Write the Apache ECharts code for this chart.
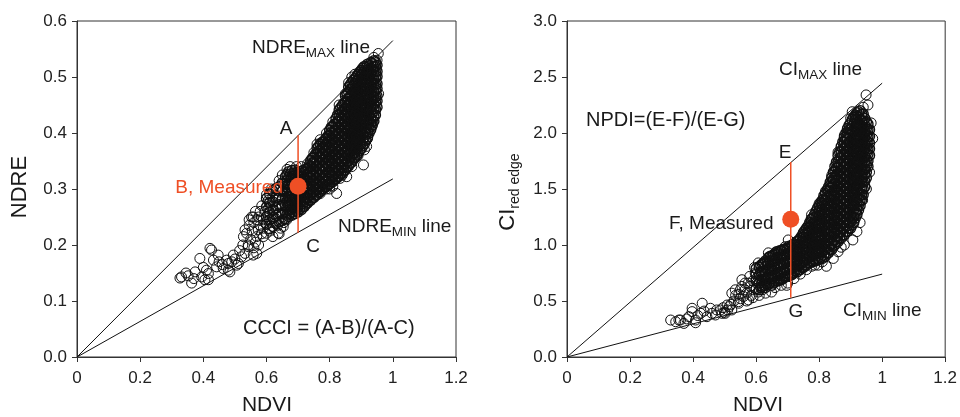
<!DOCTYPE html>
<html>
<head>
<meta charset="utf-8">
<script src="https://cdn.jsdelivr.net/npm/echarts@6/dist/echarts.min.js"></script>
<style>
  html, body { margin: 0; padding: 0; background: #fff; }
  #chart { width: 960px; height: 417px; }
</style>
</head>
<body>
<div id="chart"></div>
<script>
// ---------- Left panel: NDVI vs NDRE ----------
// scattered observations (NDVI, NDRE)
const ndreScatter = [
  [0.326,0.141],[0.352,0.145],[0.363,0.132],[0.374,0.152],[0.389,0.176],[0.395,0.143],[0.41,0.155],
  [0.426,0.191],[0.432,0.173],[0.416,0.138],[0.442,0.161],[0.463,0.158],[0.474,0.173],[0.479,0.155],
  [0.495,0.182],[0.506,0.164],[0.521,0.179],[0.527,0.215],[0.532,0.227],[0.542,0.197],[0.553,0.25],
  [0.558,0.182],[0.569,0.215],[0.331,0.143],[0.405,0.138],[0.421,0.194],[0.447,0.182],[0.416,0.149],
  [0.479,0.167],[0.484,0.152],[0.511,0.167],[0.532,0.185],[0.537,0.221],[0.542,0.2],[0.558,0.25],
  [0.574,0.227],[0.569,0.185],[0.59,0.245],[0.606,0.28],[0.6,0.221],[0.622,0.262],[0.637,0.221],
  [0.632,0.298],[0.653,0.233],[0.664,0.245],[0.685,0.322],[0.77,0.388],[0.80,0.405],[0.822,0.292],
  [0.833,0.319],[0.854,0.322],[0.907,0.343],[0.77,0.292],[0.886,0.358],[0.917,0.376],[0.933,0.411],
  [0.954,0.542],[0.345,0.15],[0.37,0.14],[0.4,0.16],[0.45,0.17],[0.46,0.165],[0.49,0.17],[0.5,0.175],
  [0.515,0.19],[0.525,0.2],[0.545,0.235],[0.55,0.21],[0.56,0.24],[0.565,0.26],[0.575,0.25],[0.58,0.235],
  [0.585,0.27],[0.595,0.26],[0.59,0.23],[0.61,0.27],[0.62,0.285],[0.63,0.28],[0.64,0.22],[0.655,0.31],
  [0.66,0.3],[0.675,0.34],[0.695,0.34],[0.71,0.34],[0.73,0.345],[0.75,0.365],[0.76,0.38],[0.79,0.3],
  [0.80,0.3],[0.81,0.305],[0.84,0.325],[0.87,0.34],[0.89,0.36],[0.91,0.37],[0.92,0.39],[0.935,0.42],
  [0.945,0.44],[0.955,0.47],[0.95,0.53],[0.94,0.535],[0.86,0.49],[0.87,0.5],[0.88,0.505],[0.83,0.45],
  [0.85,0.47],[0.81,0.42],[0.79,0.4],
  [0.545,0.245],[0.555,0.225],[0.565,0.205],[0.57,0.245],[0.58,0.26],[0.585,0.22],[0.595,0.24],
  [0.6,0.25],[0.605,0.265],[0.615,0.24],[0.625,0.25],[0.56,0.195],[0.575,0.2],[0.59,0.215],
  [0.61,0.225],[0.62,0.215],[0.635,0.235],[0.645,0.23],[0.655,0.24],[0.6,0.29],[0.615,0.3],
  [0.64,0.315],[0.65,0.325],[0.665,0.335]
];
// densely packed observations, grouped by NDVI: [ndvi, [ndre...]]
const ndreDense = [
  [0.60,[0.237,0.251,0.268,0.283]],
  [0.61,[0.229,0.245,0.258,0.276,0.291]],
  [0.62,[0.233,0.248,0.263,0.277,0.297]],
  [0.63,[0.239,0.253,0.266,0.285,0.301]],
  [0.64,[0.241,0.257,0.272,0.286,0.304]],
  [0.65,[0.244,0.256,0.27,0.282,0.296,0.311]],
  [0.66,[0.247,0.259,0.271,0.284,0.295,0.31,0.322]],
  [0.67,[0.251,0.262,0.272,0.286,0.298,0.308,0.321,0.331]],
  [0.68,[0.253,0.264,0.276,0.287,0.297,0.311,0.322,0.333]],
  [0.69,[0.256,0.267,0.278,0.288,0.301,0.313,0.324,0.334]],
  [0.70,[0.259,0.27,0.281,0.292,0.302,0.316,0.327]],
  [0.71,[0.263,0.273,0.284,0.293,0.306,0.317,0.328]],
  [0.72,[0.269,0.277,0.289,0.299,0.309,0.319,0.33]],
  [0.73,[0.275,0.285,0.293,0.305,0.315,0.324,0.337]],
  [0.74,[0.28,0.29,0.3,0.308,0.32,0.331,0.34,0.351]],
  [0.75,[0.285,0.295,0.303,0.315,0.326,0.335,0.348,0.357]],
  [0.76,[0.29,0.298,0.31,0.32,0.329,0.342,0.351,0.362,0.373]],
  [0.77,[0.295,0.305,0.313,0.326,0.335,0.348,0.357,0.368,0.38]],
  [0.78,[0.3,0.308,0.32,0.331,0.34,0.353,0.362,0.375,0.384]],
  [0.79,[0.304,0.314,0.323,0.336,0.345,0.358,0.367,0.38,0.391]],
  [0.80,[0.309,0.317,0.33,0.339,0.352,0.361,0.374,0.383,0.396,0.405]],
  [0.81,[0.313,0.324,0.333,0.346,0.355,0.368,0.377,0.39,0.399,0.412]],
  [0.82,[0.318,0.327,0.34,0.349,0.362,0.371,0.384,0.393,0.406,0.415,0.426]],
  [0.83,[0.323,0.334,0.343,0.356,0.365,0.378,0.387,0.4,0.409,0.422,0.431,0.441]],
  [0.84,[0.328,0.337,0.35,0.359,0.372,0.381,0.394,0.403,0.416,0.425,0.438,0.449]],
  [0.85,[0.334,0.345,0.354,0.367,0.376,0.389,0.398,0.411,0.42,0.433,0.442,0.455,0.466]],
  [0.86,[0.341,0.35,0.363,0.372,0.385,0.394,0.407,0.416,0.429,0.438,0.451,0.46,0.473,0.482]],
  [0.87,[0.348,0.359,0.368,0.381,0.39,0.403,0.412,0.425,0.434,0.447,0.456,0.469,0.478,0.49]],
  [0.88,[0.356,0.365,0.378,0.387,0.4,0.409,0.422,0.431,0.444,0.453,0.466,0.475,0.488,0.497]],
  [0.89,[0.364,0.375,0.384,0.397,0.406,0.419,0.428,0.441,0.45,0.463,0.472,0.485,0.494,0.505]],
  [0.90,[0.372,0.381,0.394,0.403,0.416,0.425,0.438,0.447,0.46,0.469,0.482,0.491,0.504,0.512]],
  [0.91,[0.381,0.392,0.401,0.414,0.423,0.436,0.445,0.458,0.467,0.48,0.489,0.502,0.511,0.519]],
  [0.92,[0.393,0.402,0.415,0.424,0.437,0.446,0.459,0.468,0.481,0.49,0.503,0.512,0.523]],
  [0.93,[0.406,0.417,0.426,0.439,0.448,0.461,0.47,0.483,0.492,0.505,0.514,0.526]],
  [0.94,[0.421,0.43,0.443,0.452,0.465,0.474,0.487,0.496,0.509,0.518,0.529]],
  [0.95,[0.446,0.457,0.466,0.479,0.488,0.501,0.51,0.521]],
  [0.665,[0.255,0.268,0.279,0.291,0.303,0.315,0.326]],
  [0.675,[0.257,0.269,0.281,0.292,0.304,0.316,0.327]],
  [0.685,[0.259,0.27,0.282,0.293,0.305,0.317,0.328]],
  [0.695,[0.262,0.273,0.284,0.296,0.307,0.319,0.33]],
  [0.705,[0.265,0.276,0.287,0.298,0.31,0.321,0.331]],
  [0.715,[0.268,0.279,0.29,0.301,0.312,0.323,0.333]],
  [0.725,[0.273,0.283,0.294,0.304,0.314,0.325,0.335]],
  [0.735,[0.28,0.289,0.299,0.311,0.321,0.33,0.343]],
  [0.745,[0.284,0.294,0.305,0.314,0.325,0.336,0.345,0.355]],
  [0.755,[0.289,0.3,0.308,0.319,0.331,0.34,0.352,0.362]],
  [0.765,[0.294,0.303,0.315,0.324,0.336,0.346,0.357,0.368,0.376]],
  [0.775,[0.3,0.31,0.319,0.331,0.341,0.352,0.363,0.373,0.383]],
  [0.785,[0.304,0.314,0.325,0.336,0.347,0.357,0.369,0.379,0.388]],
  [0.795,[0.308,0.319,0.329,0.341,0.351,0.363,0.373,0.386,0.395]],
  [0.805,[0.313,0.323,0.335,0.345,0.357,0.367,0.379,0.389,0.401,0.41]],
  [0.815,[0.317,0.329,0.338,0.351,0.36,0.373,0.382,0.395,0.404,0.416]],
  [0.825,[0.322,0.333,0.345,0.354,0.367,0.376,0.389,0.398,0.411,0.42,0.432]],
  [0.835,[0.327,0.339,0.348,0.361,0.37,0.383,0.392,0.405,0.414,0.427,0.436,0.445]],
  [0.845,[0.332,0.343,0.355,0.364,0.377,0.386,0.399,0.408,0.421,0.43,0.443,0.453]],
  [0.855,[0.339,0.35,0.36,0.371,0.382,0.394,0.404,0.416,0.426,0.438,0.448,0.46,0.47]],
  [0.865,[0.346,0.356,0.368,0.378,0.39,0.4,0.412,0.422,0.434,0.444,0.456,0.466,0.478,0.486]],
  [0.875,[0.353,0.364,0.374,0.386,0.396,0.408,0.418,0.43,0.44,0.452,0.462,0.474,0.484,0.494]],
  [0.885,[0.361,0.371,0.383,0.393,0.405,0.415,0.427,0.437,0.449,0.459,0.471,0.481,0.493,0.501]],
  [0.895,[0.369,0.38,0.39,0.402,0.412,0.424,0.434,0.446,0.456,0.468,0.478,0.49,0.5,0.509]],
  [0.905,[0.377,0.388,0.398,0.41,0.42,0.432,0.442,0.454,0.464,0.476,0.486,0.498,0.508,0.516]],
  [0.915,[0.387,0.398,0.408,0.42,0.43,0.442,0.452,0.464,0.474,0.486,0.496,0.508,0.517]],
  [0.925,[0.4,0.41,0.422,0.432,0.444,0.454,0.466,0.476,0.488,0.498,0.51,0.52]],
  [0.935,[0.414,0.424,0.436,0.446,0.458,0.468,0.48,0.49,0.502,0.512,0.524]],
  [0.945,[0.432,0.443,0.455,0.465,0.477,0.487,0.499,0.509,0.519,0.527]]
];
// boundary lines and the measured example
const ndreMaxLine = [[0, 0], [1, 0.565]];
const ndreMinLine = [[0, 0], [1, 0.318]];
const ndviExampleL = 0.70;
const ndreA = 0.396, ndreB = 0.305, ndreC = 0.222;

// ---------- Right panel: NDVI vs CI red edge ----------
const ciScatter = [
  [0.329,0.33],[0.345,0.315],[0.36,0.33],[0.371,0.30],[0.387,0.36],[0.397,0.405],[0.408,0.33],
  [0.429,0.48],[0.424,0.39],[0.444,0.36],[0.455,0.435],[0.471,0.375],[0.487,0.42],[0.502,0.39],
  [0.508,0.464],[0.523,0.42],[0.534,0.6],[0.544,0.494],[0.555,0.69],[0.56,0.54],[0.576,0.51],
  [0.581,0.63],[0.597,0.75],[0.607,0.58],[0.623,0.84],[0.634,0.66],[0.649,0.58],[0.66,0.93],
  [0.67,0.73],[0.692,0.985],[0.697,0.64],[0.786,0.82],[0.397,0.435],[0.355,0.33],[0.408,0.306],
  [0.492,0.39],[0.523,0.57],[0.555,0.63],[0.607,0.84],[0.639,0.93],[0.702,1.045],[0.728,1.03],
  [0.776,0.81],[0.797,0.82],[0.823,0.81],[0.828,0.925],[0.86,0.94],[0.907,1.045],[0.938,1.40],
  [0.80,1.37],[0.776,1.27],[0.949,2.34],[0.965,2.09],[0.38,0.34],[0.415,0.37],[0.435,0.41],
  [0.46,0.39],[0.475,0.42],[0.495,0.44],[0.515,0.45],[0.53,0.5],[0.545,0.56],[0.565,0.6],[0.575,0.66],
  [0.59,0.68],[0.55,0.52],[0.57,0.57],[0.585,0.55],[0.6,0.7],[0.615,0.72],[0.59,0.6],[0.62,0.6],
  [0.66,0.62],[0.68,0.64],[0.7,0.66],[0.72,0.7],[0.74,0.74],[0.76,0.78],[0.88,1.0],[0.92,1.12],
  [0.93,1.2],[0.95,1.5],[0.96,1.65],[0.97,1.95],[0.955,2.25],[0.94,2.23],[0.845,0.88],[0.87,0.98],
  [0.81,0.85],[0.84,1.62],[0.82,1.48],[0.86,1.83],[0.88,1.98],[0.9,2.13],[0.905,2.19],
  [0.535,0.55],[0.55,0.6],[0.565,0.66],[0.58,0.72],[0.595,0.8],[0.605,0.65],[0.57,0.5],[0.59,0.53],
  [0.61,0.55],[0.63,0.57],[0.545,0.48],[0.52,0.47],[0.51,0.42],[0.5,0.4]
];
const ciDense = [
  [0.60,[0.61,0.68,0.74,0.79]],
  [0.61,[0.6,0.66,0.73,0.8]],
  [0.62,[0.63,0.69,0.76,0.83]],
  [0.63,[0.62,0.68,0.74,0.81,0.86]],
  [0.64,[0.65,0.71,0.78,0.84,0.89]],
  [0.65,[0.64,0.7,0.77,0.83,0.9]],
  [0.66,[0.67,0.73,0.79,0.86,0.92]],
  [0.67,[0.68,0.74,0.8,0.87,0.93]],
  [0.68,[0.69,0.75,0.82,0.88,0.95]],
  [0.69,[0.71,0.77,0.83,0.9,0.96]],
  [0.70,[0.72,0.78,0.85,0.91,0.97]],
  [0.71,[0.73,0.79,0.86,0.92,0.98]],
  [0.72,[0.75,0.8,0.86,0.92,0.97,1.01]],
  [0.73,[0.76,0.82,0.87,0.93,0.98,1.03]],
  [0.74,[0.78,0.83,0.89,0.94,1.0,1.06]],
  [0.75,[0.8,0.85,0.9,0.96,1.01,1.07,1.11]],
  [0.76,[0.82,0.87,0.93,0.98,1.04,1.09,1.15]],
  [0.77,[0.84,0.89,0.95,1.0,1.06,1.11,1.16,1.2]],
  [0.78,[0.85,0.91,0.96,1.02,1.07,1.13,1.18,1.24]],
  [0.79,[0.86,0.92,0.97,1.03,1.08,1.14,1.19,1.25,1.3]],
  [0.80,[0.87,0.93,0.98,1.04,1.09,1.15,1.2,1.26,1.31,1.35]],
  [0.81,[0.88,0.94,0.99,1.05,1.1,1.16,1.21,1.27,1.32,1.37,1.4]],
  [0.82,[0.9,0.96,1.01,1.07,1.12,1.18,1.23,1.29,1.34,1.4,1.46]],
  [0.83,[0.93,0.98,1.04,1.09,1.15,1.2,1.26,1.31,1.37,1.42,1.48,1.52]],
  [0.84,[0.96,1.01,1.07,1.12,1.18,1.23,1.29,1.34,1.4,1.45,1.51,1.56,1.6]],
  [0.85,[1.0,1.05,1.11,1.16,1.22,1.27,1.33,1.38,1.44,1.49,1.55,1.6,1.66,1.7]],
  [0.86,[1.03,1.08,1.14,1.19,1.25,1.3,1.36,1.41,1.47,1.52,1.58,1.63,1.69,1.74,1.8]],
  [0.87,[1.06,1.12,1.17,1.23,1.28,1.34,1.39,1.45,1.5,1.56,1.61,1.67,1.72,1.78,1.83,1.88]],
  [0.88,[1.09,1.15,1.2,1.26,1.31,1.37,1.42,1.48,1.53,1.59,1.64,1.7,1.75,1.81,1.86,1.92,1.96]],
  [0.89,[1.12,1.17,1.23,1.28,1.34,1.39,1.45,1.5,1.56,1.61,1.67,1.72,1.78,1.83,1.89,1.94,2.0,2.04]],
  [0.90,[1.15,1.21,1.26,1.32,1.37,1.43,1.48,1.54,1.59,1.65,1.7,1.76,1.81,1.87,1.92,1.98,2.03,2.09]],
  [0.91,[1.2,1.25,1.31,1.36,1.42,1.47,1.53,1.58,1.64,1.69,1.75,1.8,1.86,1.91,1.97,2.02,2.08,2.14]],
  [0.92,[1.27,1.32,1.38,1.43,1.49,1.54,1.6,1.65,1.71,1.76,1.82,1.87,1.93,1.98,2.04,2.09,2.15,2.18]],
  [0.93,[1.35,1.4,1.46,1.51,1.57,1.62,1.68,1.73,1.79,1.84,1.9,1.95,2.01,2.06,2.12,2.2]],
  [0.94,[1.45,1.5,1.56,1.61,1.67,1.72,1.78,1.83,1.89,1.94,2.0,2.05,2.11,2.17]],
  [0.95,[1.6,1.65,1.71,1.76,1.82,1.87,1.93,1.98,2.04,2.1]],
  [0.96,[1.8,1.86,1.91,1.97,2.03]],
  [0.615,[0.62,0.69,0.76,0.82]],
  [0.625,[0.64,0.7,0.77,0.84]],
  [0.635,[0.64,0.71,0.78,0.85]],
  [0.645,[0.66,0.73,0.79,0.86,0.9]],
  [0.655,[0.66,0.72,0.8,0.87,0.91]],
  [0.665,[0.68,0.75,0.82,0.88,0.94]],
  [0.675,[0.69,0.76,0.83,0.89,0.95]],
  [0.685,[0.7,0.77,0.84,0.91,0.96]],
  [0.695,[0.72,0.79,0.85,0.92,0.97]],
  [0.705,[0.73,0.8,0.87,0.93,0.99]],
  [0.715,[0.74,0.81,0.88,0.94,1.0]],
  [0.725,[0.77,0.83,0.89,0.95,1.0]],
  [0.735,[0.78,0.84,0.9,0.96,1.01,1.04]],
  [0.745,[0.8,0.86,0.92,0.97,1.03,1.08]],
  [0.755,[0.82,0.88,0.93,0.99,1.04,1.1,1.13]],
  [0.765,[0.84,0.9,0.96,1.01,1.07,1.12,1.17]],
  [0.775,[0.86,0.92,0.98,1.03,1.09,1.14,1.2,1.23]],
  [0.785,[0.87,0.93,0.99,1.05,1.1,1.16,1.21,1.27]],
  [0.795,[0.88,0.94,1.0,1.06,1.11,1.17,1.22,1.28,1.33]],
  [0.805,[0.89,0.95,1.01,1.07,1.12,1.18,1.23,1.29,1.34,1.38]],
  [0.815,[0.91,0.97,1.02,1.08,1.13,1.19,1.24,1.3,1.35,1.41,1.44]],
  [0.825,[0.93,0.99,1.04,1.1,1.15,1.21,1.26,1.32,1.37,1.43,1.49]],
  [0.835,[0.96,1.01,1.07,1.12,1.18,1.23,1.29,1.34,1.4,1.45,1.51,1.56]],
  [0.845,[0.99,1.04,1.1,1.15,1.21,1.26,1.32,1.37,1.43,1.48,1.54,1.59,1.65]],
  [0.855,[1.03,1.08,1.14,1.19,1.25,1.3,1.36,1.41,1.47,1.52,1.58,1.63,1.69,1.74]],
  [0.865,[1.06,1.11,1.17,1.22,1.28,1.33,1.39,1.44,1.5,1.55,1.61,1.66,1.72,1.77,1.83]],
  [0.875,[1.09,1.15,1.2,1.26,1.31,1.37,1.42,1.48,1.53,1.59,1.64,1.7,1.75,1.81,1.86,1.92]],
  [0.885,[1.12,1.18,1.23,1.29,1.34,1.4,1.45,1.51,1.56,1.62,1.67,1.73,1.78,1.84,1.89,1.95,2.0]],
  [0.895,[1.15,1.21,1.26,1.32,1.37,1.43,1.48,1.54,1.59,1.65,1.7,1.76,1.81,1.87,1.92,1.98,2.03,2.07]],
  [0.905,[1.18,1.24,1.29,1.35,1.4,1.46,1.51,1.57,1.62,1.68,1.73,1.79,1.84,1.9,1.95,2.01,2.06,2.12]],
  [0.915,[1.24,1.29,1.35,1.4,1.46,1.51,1.57,1.62,1.68,1.73,1.79,1.84,1.9,1.95,2.01,2.06,2.12,2.16]],
  [0.925,[1.31,1.36,1.42,1.47,1.53,1.58,1.64,1.69,1.75,1.8,1.86,1.91,1.97,2.02,2.08,2.14,2.19]],
  [0.935,[1.4,1.45,1.51,1.56,1.62,1.67,1.73,1.78,1.84,1.89,1.95,2.0,2.06,2.11,2.17]],
  [0.945,[1.52,1.57,1.63,1.68,1.74,1.79,1.85,1.9,1.96,2.01,2.07,2.13]],
  [0.955,[1.7,1.75,1.81,1.86,1.92,1.97,2.03,2.08]]
];
const ciMaxLine = [[0, 0], [1, 2.445]];
const ciMinLine = [[0, 0], [1, 0.74]];
const ndviExampleR = 0.71;
const ciE = 1.74, ciF = 1.23, ciG = 0.53;

// ---------- helpers ----------
function expand(cols) {
  const out = [];
  cols.forEach(function (c) { c[1].forEach(function (y) { out.push([c[0], y]); }); });
  return out;
}

const FONT = 'Liberation Sans, Arial, sans-serif';
const INK = '#1a1a1a';
const RED = '#ef4f25';

function xAxisCfg(idx) {
  return {
    gridIndex: idx, type: 'value', min: 0, max: 1.2, interval: 0.2,
    axisLine: { show: true, onZero: false, lineStyle: { color: '#333', width: 1 } },
    axisTick: { show: true, inside: false, length: 5, lineStyle: { color: '#333' } },
    axisLabel: { fontSize: 17, color: '#222', fontFamily: FONT, margin: 13 },
    splitLine: { show: false }
  };
}
function yAxisCfg(idx, max, step) {
  return {
    gridIndex: idx, type: 'value', min: 0, max: max, interval: step,
    axisLine: { show: true, onZero: false, lineStyle: { color: '#333', width: 1 } },
    axisTick: { show: true, inside: false, length: 5, lineStyle: { color: '#333' } },
    axisLabel: { fontSize: 17, color: '#222', fontFamily: FONT, margin: 10,
      formatter: function (v) { return v.toFixed(1); } },
    splitLine: { show: false }
  };
}
function cloud(idx, data, bw) {
  return {
    type: 'scatter', xAxisIndex: idx, yAxisIndex: idx, data: data,
    symbol: 'circle', symbolSize: 10, silent: true, z: 2,
    itemStyle: { color: 'rgba(0,0,0,0)', borderColor: '#111', borderWidth: bw, opacity: 1 }
  };
}
function line(idx, data, color, width, z) {
  return {
    type: 'line', xAxisIndex: idx, yAxisIndex: idx, data: data,
    showSymbol: false, symbol: 'none', silent: true, z: z,
    lineStyle: { color: color, width: width }
  };
}
function dot(idx, x, y) {
  return {
    type: 'scatter', xAxisIndex: idx, yAxisIndex: idx, data: [[x, y]],
    symbol: 'circle', symbolSize: 17, silent: true, z: 6,
    itemStyle: { color: RED, opacity: 1 }
  };
}

const mainStyle = { fontSize: 19, lineHeight: 24, fontFamily: FONT, color: INK };
const subStyle = { fontSize: 13.5, lineHeight: 13, fontFamily: FONT, color: INK, verticalAlign: 'bottom' };

function label(x, y, text, opts) {
  opts = opts || {};
  return {
    type: 'text', x: x, y: y, rotation: opts.rotation || 0, z: 10,
    style: {
      text: text, fontSize: opts.size || 19, fontFamily: FONT,
      fill: opts.color || INK,
      align: opts.align || 'left', verticalAlign: 'middle',
      rich: opts.rich
    }
  };
}

const chart = echarts.init(document.getElementById('chart'), null, { renderer: 'canvas' });
chart.setOption({
  animation: false,
  backgroundColor: '#fff',
  grid: [
    { left: 77, top: 21, width: 379, height: 336, show: true, borderColor: '#333', borderWidth: 1, backgroundColor: 'transparent' },
    { left: 567, top: 21, width: 381, height: 336, show: true, borderColor: '#333', borderWidth: 1, backgroundColor: 'transparent' }
  ],
  xAxis: [xAxisCfg(0), xAxisCfg(1)],
  yAxis: [yAxisCfg(0, 0.6, 0.1), yAxisCfg(1, 3.0, 0.5)],
  series: [
    cloud(0, ndreScatter, 1),
    cloud(0, expand(ndreDense), 1.4),
    line(0, ndreMaxLine, '#111', 1, 3),
    line(0, ndreMinLine, '#111', 1, 3),
    line(0, [[ndviExampleL, ndreA], [ndviExampleL, ndreC]], RED, 1.5, 5),
    dot(0, ndviExampleL, ndreB),

    cloud(1, ciScatter, 1),
    cloud(1, expand(ciDense), 1.4),
    line(1, ciMaxLine, '#111', 1, 3),
    line(1, ciMinLine, '#111', 1, 3),
    line(1, [[ndviExampleR, ciE], [ndviExampleR, ciG]], RED, 1.5, 5),
    dot(1, ndviExampleR, ciF)
  ],
  graphic: [
    // left panel text
    label(20, 187, 'NDRE', { size: 22, align: 'center', rotation: Math.PI / 2 }),
    label(267, 405, 'NDVI', { size: 21, align: 'center' }),
    label(252, 48, '{a|NDRE}{s|MAX}{a| line}', { rich: { a: mainStyle, s: subStyle } }),
    label(286, 129, 'A', { align: 'center' }),
    label(283, 188, 'B, Measured', { align: 'right', color: RED }),
    label(338, 227, '{a|NDRE}{s|MIN}{a| line}', { rich: { a: mainStyle, s: subStyle } }),
    label(313, 247, 'C', { align: 'center' }),
    label(243, 328, 'CCCI = (A-B)/(A-C)', { size: 20 }),
    // right panel text
    label(508, 192, '{c|CI}{r|red edge}', { align: 'center', rotation: Math.PI / 2,
      rich: { c: { fontSize: 22, lineHeight: 28, fontFamily: FONT, color: INK },
              r: { fontSize: 14, lineHeight: 14, fontFamily: FONT, color: INK, verticalAlign: 'bottom' } } }),
    label(758, 405, 'NDVI', { size: 21, align: 'center' }),
    label(779, 70, '{a|CI}{s|MAX}{a| line}', { rich: { a: mainStyle, s: subStyle } }),
    label(586, 120, 'NPDI=(E-F)/(E-G)', { size: 20 }),
    label(785, 153, 'E', { align: 'center' }),
    label(669, 224, 'F, Measured'),
    label(796, 312, 'G', { align: 'center' }),
    label(843, 311, '{a|CI}{s|MIN}{a| line}', { rich: { a: mainStyle, s: subStyle } })
  ]
});
</script>
</body>
</html>
